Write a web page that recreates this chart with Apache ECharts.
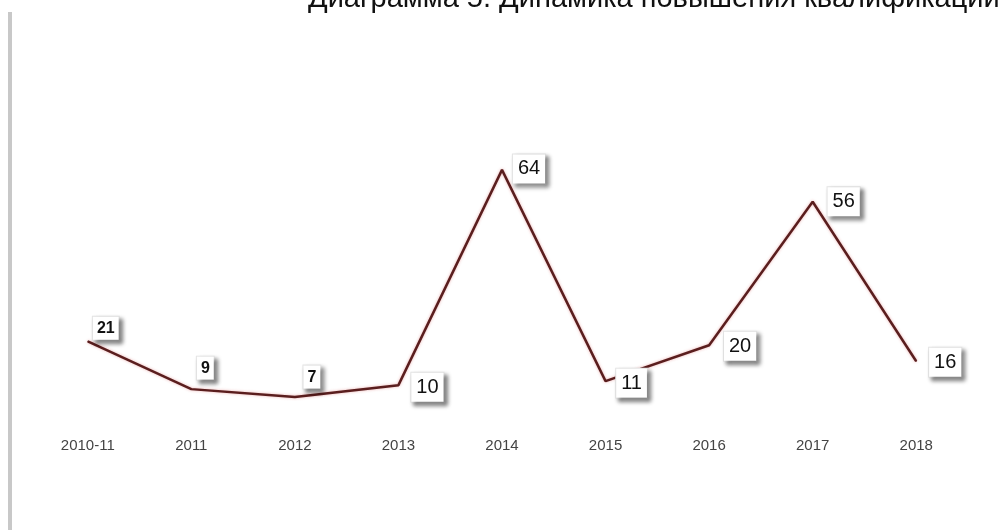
<!DOCTYPE html>
<html>
<head>
<meta charset="utf-8">
<script src="https://cdn.jsdelivr.net/npm/echarts@6/dist/echarts.min.js"></script>
<style>html,body{margin:0;padding:0;background:#fff;}#c{width:1000px;height:530px;}</style>
</head>
<body>
<div id="c"></div>
<script>
var titleText = 'Диаграмма 5. Динамика повышения квалификации';
var categories = ['2010-11', '2011', '2012', '2013', '2014', '2015', '2016', '2017', '2018'];
var values = [21, 9, 7, 10, 64, 11, 20, 56, 16];

var chart = echarts.init(document.getElementById('c'));

// label placement/style per point (presentation only)
var labelOffsets = [[18, -13], [14, -21], [17, -20], [29, 2], [27, -1], [26, 2], [31, 1], [31, 0], [29, 1]];
var labelSmall = [true, true, true, false, false, false, false, false, false];

var seriesData = values.map(function (v, i) {
  return {
    value: v,
    label: {
      offset: labelOffsets[i],
      fontSize: labelSmall[i] ? 16 : 20,
      fontWeight: labelSmall[i] ? 'bold' : 'normal',
      padding: labelSmall[i] ? [4, 4, 3, 4] : [5, 5, 4, 5]
    }
  };
});

chart.setOption({
  animation: false,
  backgroundColor: '#ffffff',
  title: {
    text: titleText,
    left: 303,
    top: -21,
    textStyle: { fontFamily: 'Liberation Sans, Arial', fontSize: 29, fontWeight: 'normal', color: '#111' }
  },
  graphic: [{
    type: 'rect',
    left: 8,
    top: 12,
    shape: { width: 4, height: 520 },
    style: { fill: '#c8c8c8' }
  }],
  grid: { left: 36, right: 32, top: 146, bottom: 105 },
  xAxis: {
    type: 'category',
    data: categories,
    boundaryGap: true,
    axisLine: { show: false },
    axisTick: { show: false },
    splitLine: { show: false },
    axisLabel: { margin: 13, fontSize: 15, color: '#444', fontFamily: 'Liberation Sans, Arial' }
  },
  yAxis: {
    type: 'value',
    min: 0,
    max: 70,
    show: false
  },
  series: [{
    type: 'line',
    data: seriesData,
    showSymbol: true,
    symbol: 'circle',
    symbolSize: 1,
    itemStyle: { color: '#5a1e1e' },
    lineStyle: {
      color: '#5a1e1e',
      width: 2.5,
      shadowColor: 'rgba(210,80,80,0.45)',
      shadowBlur: 3
    },
    label: {
      show: true,
      position: 'inside',
      align: 'center',
      verticalAlign: 'middle',
      color: '#111',
      fontFamily: 'Liberation Sans, Arial',
      backgroundColor: '#ffffff',
      borderColor: '#e4e4e4',
      borderWidth: 1,
      shadowColor: 'rgba(0,0,0,0.45)',
      shadowBlur: 4,
      shadowOffsetX: 3,
      shadowOffsetY: 3
    }
  }]
});
</script>
</body>
</html>
